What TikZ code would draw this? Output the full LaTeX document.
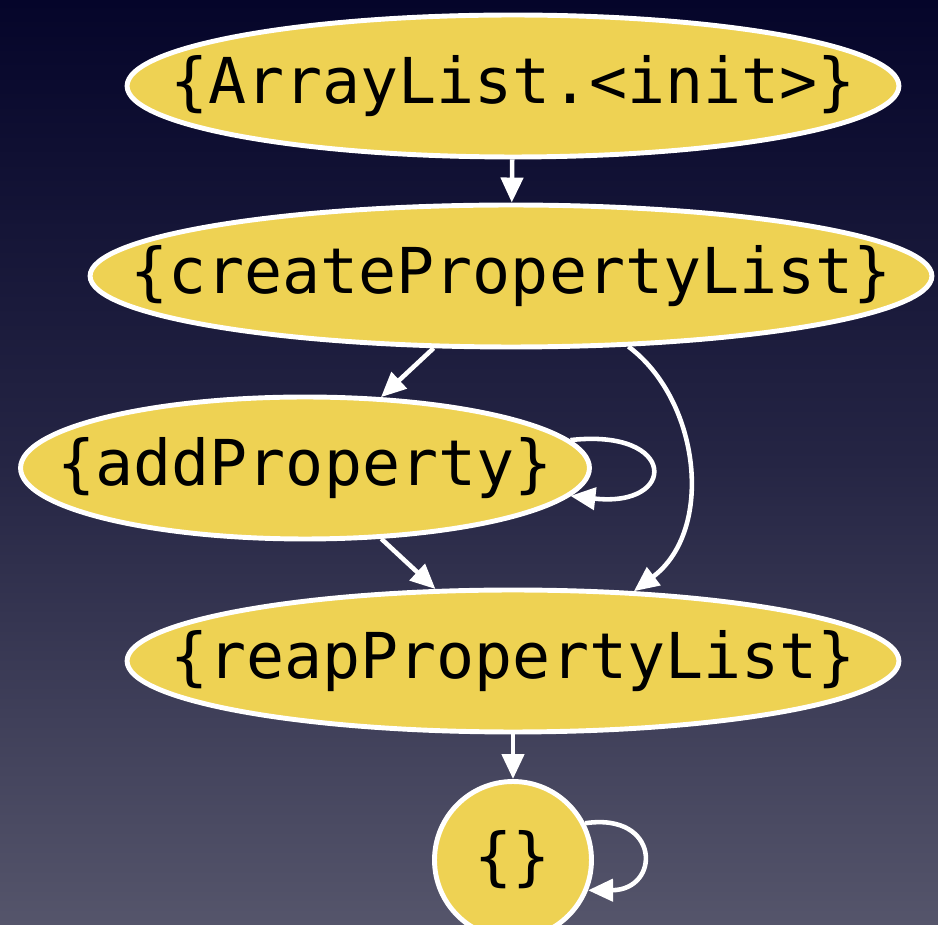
\documentclass[tikz,border=0pt]{standalone}
\usepackage{fontspec}
\usetikzlibrary{shapes.geometric,arrows.meta}
\newfontfamily\diagmono{DejaVu Sans Mono}
\definecolor{bgtop}{HTML}{05052A}
\definecolor{bgbot}{HTML}{55556B}
\definecolor{nodefill}{HTML}{EED253}
\begin{document}
\begin{tikzpicture}[x=0.02cm,y=-0.02cm,
  state/.style={ellipse,draw=white,fill=nodefill,line width=2.8pt,inner sep=0pt,
    minimum height=2.84cm,font=\diagmono\fontsize{36}{40}\selectfont,text=black},
  edge/.style={draw=white,line width=2.6pt,-{Triangle[length=0.5cm,width=0.44cm]}}]
\useasboundingbox (0,0) rectangle (938,925);
\shade[top color=bgtop,bottom color=bgbot,middle color=bgtop!60!bgbot] (0,0) rectangle (938,925);
\node[state,minimum width=15.44cm] (n1) at (513,86) {\makebox[0pt]{\{ArrayList.<init>\}}};
\node[state,minimum width=16.84cm] (n2) at (511,276) {\makebox[0pt]{\{createPropertyList\}}};
\node[state,minimum width=11.38cm] (n3) at (305,468) {\makebox[0pt]{\{addProperty\}}};
\node[state,minimum width=15.44cm] (n4) at (513,661) {\makebox[0pt]{\{reapPropertyList\}}};
\node[state,circle,minimum size=3.14cm] (n5) at (513,860) {\makebox[0pt]{\{\}}};
\draw[edge] (n1) -- (n2);
\draw[edge] (n2) -- (n3);
\draw[edge] (n3) -- (n4);
\draw[edge] (n2.-31) .. controls (700,400) and (715,530) .. (n4.30);
\draw[edge] (n3.6) .. controls (678,428) and (678,508) .. (n3.-6);
\draw[edge] (n4) -- (n5);
\draw[edge] (n5.27) .. controls (661,812) and (661,890) .. (n5.-22);
\end{tikzpicture}
\end{document}
